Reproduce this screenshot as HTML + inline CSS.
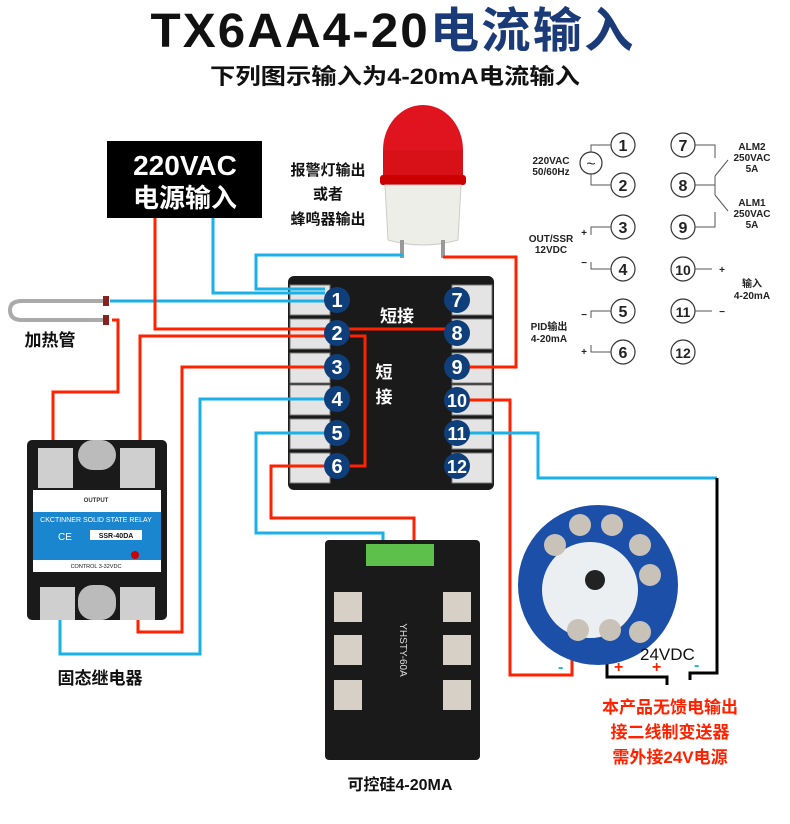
<!DOCTYPE html>
<html><head><meta charset="utf-8"><style>
body{margin:0;background:#fff;}
svg{display:block;font-family:"Liberation Sans","Noto Sans CJK SC",sans-serif;}
</style></head><body>
<svg width="790" height="824" viewBox="0 0 790 824" xmlns="http://www.w3.org/2000/svg">
<text x="393" y="47" text-anchor="middle" font-size="48" font-weight="bold" fill="#111" letter-spacing="2" textLength="485" lengthAdjust="spacingAndGlyphs">TX6AA4-20<tspan fill="#1a3b78">电流输入</tspan></text>
<text x="395" y="84" text-anchor="middle" font-size="22" font-weight="bold" fill="#111" textLength="370" lengthAdjust="spacingAndGlyphs">下列图示输入为4-20mA电流输入</text>

<rect x="107" y="141" width="155" height="77" fill="#000"/>
<text x="185" y="175" text-anchor="middle" font-size="28" font-weight="bold" fill="#fff">220VAC</text>
<text x="185" y="207" text-anchor="middle" font-size="26" font-weight="bold" fill="#fff">电源输入</text>
<text x="328" y="175" text-anchor="middle" font-size="15" font-weight="bold" fill="#111">报警灯输出</text>
<text x="328" y="199" text-anchor="middle" font-size="15" font-weight="bold" fill="#111">或者</text>
<text x="328" y="224" text-anchor="middle" font-size="15" font-weight="bold" fill="#111">蜂鸣器输出</text>

<ellipse cx="423" cy="150" rx="40" ry="45" fill="#e0141e"/>
<rect x="383" y="150" width="80" height="30" fill="#d81018"/>
<rect x="380" y="175" width="86" height="10" rx="3" fill="#c00"/>
<path d="M385 185 L461 185 L458 240 Q423 250 388 240 Z" fill="#eeeee8" stroke="#ccc"/>
<rect x="400" y="240" width="4" height="18" fill="#999"/>
<rect x="441" y="240" width="4" height="18" fill="#999"/>

<path d="M105 301 L22 301 Q10 301 10 310 Q10 320 22 320 L105 320" fill="none" stroke="#aaa" stroke-width="4"/>
<rect x="103" y="296" width="6" height="10" fill="#822"/><rect x="103" y="315" width="6" height="10" fill="#822"/>
<text x="50" y="346" text-anchor="middle" font-size="17" font-weight="bold" fill="#111">加热管</text>

<rect x="288" y="276" width="206" height="214" rx="6" fill="#1a1a1a"/>
<g fill="#e4e4e4" stroke="#777">
<rect x="290" y="285" width="40" height="30"/><rect x="290" y="319" width="40" height="30"/><rect x="290" y="353" width="40" height="30"/><rect x="290" y="385" width="40" height="30"/><rect x="290" y="419" width="40" height="30"/><rect x="290" y="453" width="40" height="30"/>
<rect x="452" y="285" width="40" height="30"/><rect x="452" y="319" width="40" height="30"/><rect x="452" y="353" width="40" height="30"/><rect x="452" y="385" width="40" height="30"/><rect x="452" y="419" width="40" height="30"/><rect x="452" y="453" width="40" height="30"/>
</g>
<text x="397" y="322" text-anchor="middle" font-size="17" font-weight="bold" fill="#fff">短接</text>
<text x="384" y="378" text-anchor="middle" font-size="17" font-weight="bold" fill="#fff">短</text>
<text x="384" y="403" text-anchor="middle" font-size="17" font-weight="bold" fill="#fff">接</text>

<g fill="none" stroke-width="3">
<polyline points="213,218 213,293 325,293" stroke="#1ab0e8"/>
<polyline points="403,255 256,255 256,289 325,289" stroke="#1ab0e8"/>
<polyline points="110,301 325,301" stroke="#1ab0e8"/>
<polyline points="155,218 155,329 325,329" stroke="#f20"/>
<polyline points="337,329 457,329" stroke="#f20"/>
<polyline points="350,336 365,336 365,466 350,466" stroke="#f20"/>
<polyline points="325,336 140,336 140,458" stroke="#f20"/>
<polyline points="112,320 118,320 118,392 53,392 53,458" stroke="#f20"/>
<polyline points="325,367 182,367 182,632 138,632 138,612" stroke="#f20"/>
<polyline points="325,399 200,399 200,654 60,654 60,612" stroke="#1ab0e8"/>
<polyline points="325,433 256,433 256,533 383,533 383,548" stroke="#1ab0e8"/>
<polyline points="325,466 271,466 271,518 414,518 414,548" stroke="#f20"/>
<polyline points="443,257 516,257 516,367 470,367" stroke="#f20"/>
<polyline points="470,400 510,400 510,675 572,675 572,625" stroke="#f20"/>
<polyline points="470,433 538,433 538,478 717,478" stroke="#1ab0e8"/>
<polyline points="717,478 717,673 690,673 690,680" stroke="#000"/>
<polyline points="607,625 607,677 667,677 667,685" stroke="#000"/>
</g>

<g fill="#0e3f7a">
<circle cx="337" cy="300" r="13"/><circle cx="337" cy="333" r="13"/><circle cx="337" cy="367" r="13"/><circle cx="337" cy="399" r="13"/><circle cx="337" cy="433" r="13"/><circle cx="337" cy="466" r="13"/>
<circle cx="457" cy="300" r="13"/><circle cx="457" cy="333" r="13"/><circle cx="457" cy="367" r="13"/><circle cx="457" cy="400" r="13"/><circle cx="457" cy="433" r="13"/><circle cx="457" cy="466" r="13"/>
</g>
<g fill="#fff" font-size="20" font-weight="bold" text-anchor="middle">
<text x="337" y="307">1</text><text x="337" y="340">2</text><text x="337" y="374">3</text><text x="337" y="406">4</text><text x="337" y="440">5</text><text x="337" y="473">6</text>
<text x="457" y="307">7</text><text x="457" y="340">8</text><text x="457" y="374">9</text><text x="457" y="407" font-size="18">10</text><text x="457" y="440" font-size="18">11</text><text x="457" y="473" font-size="18">12</text>
</g>

<rect x="27" y="440" width="140" height="180" rx="5" fill="#1a1a1a"/>
<rect x="38" y="448" width="35" height="40" fill="#cfcfcf"/><rect x="120" y="448" width="35" height="40" fill="#cfcfcf"/>
<rect x="78" y="440" width="38" height="30" rx="15" fill="#bbb"/>
<rect x="33" y="490" width="128" height="82" fill="#fff"/>
<rect x="33" y="512" width="128" height="48" fill="#1b86d0"/>
<text x="96" y="502" text-anchor="middle" font-size="6" font-weight="bold" fill="#333">OUTPUT</text>
<text x="96" y="522" text-anchor="middle" font-size="7" fill="#fff">CKCTINNER SOLID STATE RELAY</text>
<rect x="90" y="530" width="52" height="10" fill="#fff"/>
<text x="116" y="538" text-anchor="middle" font-size="7" font-weight="bold" fill="#111">SSR-40DA</text>
<text x="58" y="540" font-size="10" fill="#fff">CE</text>
<circle cx="135" cy="555" r="4" fill="#c00"/>
<text x="96" y="568" text-anchor="middle" font-size="5.5" fill="#111">CONTROL 3-32VDC</text>
<rect x="40" y="587" width="35" height="33" fill="#cfcfcf"/><rect x="120" y="587" width="35" height="33" fill="#cfcfcf"/>
<rect x="78" y="585" width="38" height="35" rx="15" fill="#bbb"/>
<text x="100" y="684" text-anchor="middle" font-size="17" font-weight="bold" fill="#111">固态继电器</text>

<rect x="325" y="540" width="155" height="220" rx="4" fill="#1a1a1a"/>
<rect x="366" y="544" width="68" height="22" fill="#5cc04a"/>
<g fill="#d6d0c6"><rect x="334" y="592" width="28" height="30"/><rect x="334" y="635" width="28" height="30"/><rect x="334" y="680" width="28" height="30"/>
<rect x="443" y="592" width="28" height="30"/><rect x="443" y="635" width="28" height="30"/><rect x="443" y="680" width="28" height="30"/></g>
<text x="400" y="650" font-size="10" fill="#ddd" transform="rotate(90 400 650)" text-anchor="middle">YHSTY-60A</text>
<text x="400" y="790" text-anchor="middle" font-size="16" font-weight="bold" fill="#111">可控硅4-20MA</text>

<circle cx="598" cy="585" r="80" fill="#1c4fa8"/>
<circle cx="590" cy="590" r="48" fill="#eceff2"/>
<circle cx="595" cy="580" r="10" fill="#222"/>
<g fill="#c9c2b8"><circle cx="555" cy="545" r="11"/><circle cx="580" cy="525" r="11"/><circle cx="612" cy="525" r="11"/><circle cx="640" cy="545" r="11"/><circle cx="650" cy="575" r="11"/><circle cx="578" cy="630" r="11"/><circle cx="610" cy="630" r="11"/><circle cx="640" cy="632" r="11"/></g>
<text x="640" y="660" font-size="17" fill="#111">24VDC</text>
<text x="558" y="672" font-size="16" font-weight="bold" fill="#1ab0e8">-</text>
<text x="614" y="672" font-size="16" font-weight="bold" fill="#f20">+</text>
<text x="652" y="672" font-size="16" font-weight="bold" fill="#f20">+</text>
<text x="694" y="670" font-size="16" font-weight="bold" fill="#1ab0e8">-</text>
<g font-size="17" font-weight="bold" fill="#f20" text-anchor="middle">
<text x="670" y="713">本产品无馈电输出</text><text x="670" y="738">接二线制变送器</text><text x="670" y="763">需外接24V电源</text></g>

<g fill="#fff" stroke="#333" stroke-width="1.2">
<circle cx="623" cy="145" r="12"/><circle cx="623" cy="185" r="12"/><circle cx="623" cy="227" r="12"/><circle cx="623" cy="269" r="12"/><circle cx="623" cy="311" r="12"/><circle cx="623" cy="352" r="12"/>
<circle cx="683" cy="145" r="12"/><circle cx="683" cy="185" r="12"/><circle cx="683" cy="227" r="12"/><circle cx="683" cy="269" r="12"/><circle cx="683" cy="311" r="12"/><circle cx="683" cy="352" r="12"/>
<circle cx="591" cy="163" r="11"/>
</g>
<g fill="none" stroke="#555" stroke-width="1">
<polyline points="611,145 591,145 591,152"/><polyline points="611,185 591,185 591,174"/>
<polyline points="611,227 591,227 591,235"/><polyline points="611,269 591,269 591,262"/>
<polyline points="611,311 591,311 591,318"/><polyline points="611,352 591,352 591,345"/>
<polyline points="695,145 715,145 715,158"/><polyline points="695,185 715,185"/><polyline points="695,227 715,227 715,212"/>
<line x1="715" y1="176" x2="728" y2="160"/><line x1="715" y1="195" x2="728" y2="211"/><line x1="715" y1="176" x2="715" y2="195"/>
<line x1="695" y1="269" x2="712" y2="269"/><line x1="695" y1="311" x2="712" y2="311"/>
</g>
<text x="591" y="169" text-anchor="middle" font-size="16" fill="#333">~</text>
<g font-size="16" font-weight="bold" fill="#222" text-anchor="middle">
<text x="623" y="151">1</text><text x="623" y="191">2</text><text x="623" y="233">3</text><text x="623" y="275">4</text><text x="623" y="317">5</text><text x="623" y="358">6</text>
<text x="683" y="151">7</text><text x="683" y="191">8</text><text x="683" y="233">9</text><text x="683" y="275" font-size="14">10</text><text x="683" y="317" font-size="14">11</text><text x="683" y="358" font-size="14">12</text>
</g>
<g font-size="10" font-weight="bold" fill="#222" text-anchor="middle">
<text x="551" y="164">220VAC</text><text x="551" y="175">50/60Hz</text>
<text x="752" y="150">ALM2</text><text x="752" y="161">250VAC</text><text x="752" y="172">5A</text>
<text x="752" y="206">ALM1</text><text x="752" y="217">250VAC</text><text x="752" y="228">5A</text>
<text x="551" y="242">OUT/SSR</text><text x="551" y="253">12VDC</text>
<text x="549" y="330">PID输出</text><text x="549" y="342">4-20mA</text>
<text x="752" y="287">输入</text><text x="752" y="299">4-20mA</text>
<text x="584" y="236">+</text><text x="584" y="266">−</text><text x="584" y="318">−</text><text x="584" y="355">+</text>
<text x="722" y="273">+</text><text x="722" y="315">−</text>
</g>
</svg>
</body></html>
